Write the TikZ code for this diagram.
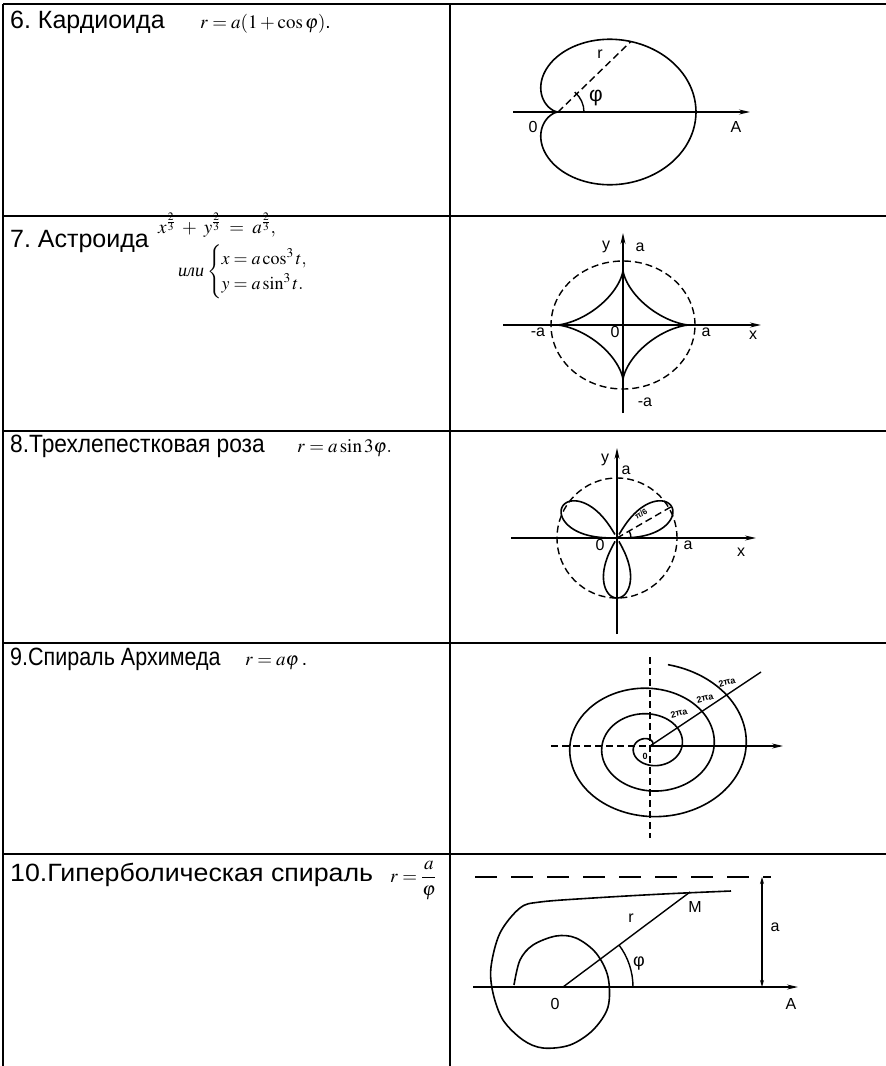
\documentclass[tikz,border=0pt]{standalone}
\usepackage{amsmath}
\usepackage{mathptmx}
\usepackage[no-math]{fontspec}
\setmainfont{Liberation Sans}
\newfontfamily\serifcyr{Liberation Serif}
\usetikzlibrary{arrows.meta}
\frenchspacing
\begin{document}
\begin{tikzpicture}[x=1pt,y=-1pt,
  grid/.style={line width=1.4pt},
  curve/.style={line width=1.6pt, line join=round},
  axis/.style={line width=1.4pt},
  arr/.style={-{Stealth[length=11pt,width=5pt]}},
  dsh/.style={line width=1.4pt, dash pattern=on 7pt off 4pt},
  title/.style={anchor=base west, inner sep=0pt, font=\fontsize{25}{29}\selectfont},
  formula/.style={anchor=base west, inner sep=0pt, font=\fontsize{18}{21}\selectfont},
  lbl/.style={inner sep=0pt, font=\fontsize{16}{18}\selectfont},
  tinylbl/.style={inner sep=0pt, font=\bfseries\fontsize{9}{10}\selectfont}]

\useasboundingbox (0,0) rectangle (886,1066);
\fill[white] (0,0) rectangle (886,1066);

% ---------- table ----------
\draw[grid] (3,4) -- (886,4);
\draw[grid] (3,216) -- (886,216);
\draw[grid] (3,431) -- (886,431);
\draw[grid] (3,643) -- (886,643);
\draw[grid] (3,854) -- (886,854);
\draw[grid] (3,4) -- (3,1066);
\draw[grid] (450,4) -- (450,1066);

% ---------- left texts ----------
\node[title] (t6) at (10,28) {6. Кардиоида};
\node[formula, font=\fontsize{19}{22}\selectfont] (f6) at (200,28) {$r=a(1+\cos\varphi)$.};

\node[title] (t7) at (10,247) {7. Астроида};
\node[formula, font=\fontsize{19}{22}\selectfont] (f7a) at (158,233) {$x^{\frac{2}{3}}\;+\;y^{\frac{2}{3}}\;=\;a^{\frac{2}{3}},$};
\node[formula, anchor=west] (f7b) at (178,272) {{\serifcyr\itshape или}\,$\begin{cases}x=a\cos^3t,\\ y=a\sin^3t.\end{cases}$};

\node[title] (t8) at (10,452) {\scalebox{0.91}[1]{8.Трехлепестковая роза}};
\node[formula, font=\fontsize{19}{22}\selectfont] (f8) at (297,452) {$r=a\sin3\varphi.$};

\node[title] (t9) at (10,665) {\scalebox{0.86}[1]{9.Спираль Архимеда}};
\node[formula, font=\fontsize{19}{22}\selectfont] (f9) at (245,665) {$r=a\varphi$\,.};

\node[title] (t10) at (10,881) {\scalebox{1.07}[1]{10.Гиперболическая спираль}};
\node[formula, font=\fontsize{19}{22}\selectfont] (f10) at (390,882) {$r=\dfrac{a}{\varphi}$};

% ---------- 6. cardioid ----------
\begin{scope}[shift={(558,112)}, y=1pt]
  \coordinate (c0) at (0,0);
  \coordinate (cL) at (-45,0);
  \coordinate (cR) at (192,0);
  \draw[axis, arr] (cL) -- (cR);
  \draw[curve] plot[domain=0:360, samples=160, smooth cycle] ({69*(1+cos(\x))*cos(\x)}, {56*(1+cos(\x))*sin(\x)});
  \coordinate (cP) at ({69*(1+cos(50))*cos(50)}, {56*(1+cos(50))*sin(50)});
  \draw[dsh] (c0) -- (cP);
  \draw[axis] (26,0) arc[start angle=0, end angle=50, radius=26];
  \node[lbl] (cr) at (42,58) {r};
  \node[lbl, font=\fontsize{21}{23}\selectfont] (cphi) at (38,14) {φ};
  \node[lbl] (cO) at (-25,-15) {0};
  \node[lbl] (cA) at (178,-15) {A};
\end{scope}

% ---------- 7. astroid ----------
\begin{scope}[shift={(623,325)}, y=1pt]
  \coordinate (a0) at (0,0);
  \coordinate (axL) at (-120,0);
  \coordinate (axR) at (138,0);
  \coordinate (ayB) at (0,-88);
  \coordinate (ayT) at (0,92);
  \draw[axis, arr] (axL) -- (axR);
  \draw[axis, arr] (ayB) -- (ayT);
  \draw[dsh] (a0) ellipse[x radius=72, y radius=64];
  \draw[curve] plot[domain=0:360, samples=200] ({66*cos(\x)*cos(\x)*cos(\x)}, {55*sin(\x)*sin(\x)*sin(\x)});
  \node[lbl] (ay) at (-17,78) {y};
  \node[lbl] (aa1) at (17,78) {a};
  \node[lbl] (aa2) at (-85,-7) {-a};
  \node[lbl] (aO) at (-8,-7) {0};
  \node[lbl] (aa3) at (83,-7) {a};
  \node[lbl] (ax) at (130,-10) {x};
  \node[lbl] (aa4) at (22,-77) {-a};
\end{scope}

% ---------- 8. rose ----------
\begin{scope}[shift={(617,538)}, y=1pt]
  \coordinate (r0) at (0,0);
  \coordinate (rxL) at (-106,0);
  \coordinate (rxR) at (139,0);
  \coordinate (ryB) at (0,-96);
  \coordinate (ryT) at (0,90);
  \draw[axis, arr] (rxL) -- (rxR);
  \draw[axis, arr] (ryB) -- (ryT);
  \draw[dsh] (r0) circle[radius=60];
  \draw[curve] plot[domain=0.2:59.8, samples=80, smooth] ({63*pow(sin(3*\x),0.6)*cos(\x)}, {63*pow(sin(3*\x),0.6)*sin(\x)});
  \draw[curve] plot[domain=120.2:179.8, samples=80, smooth] ({63*pow(sin(3*\x),0.6)*cos(\x)}, {63*pow(sin(3*\x),0.6)*sin(\x)});
  \draw[curve] plot[domain=60.2:119.8, samples=80, smooth] ({-60*pow(-sin(3*\x),0.6)*cos(\x)}, {-60*pow(-sin(3*\x),0.6)*sin(\x)});
  \coordinate (rP) at (30:63);
  \draw[dsh] (r0) -- (rP);
  \draw[axis] (14,0) arc[start angle=0, end angle=30, radius=14];
  \node[tinylbl, font=\bfseries\fontsize{8}{9}\selectfont, rotate=30] (rang) at (24,24) {π/6};
  \node[lbl] (ry) at (-12,78) {y};
  \node[lbl] (ra1) at (9,68) {a};
  \node[lbl] (rO) at (-17,-7) {0};
  \node[lbl] (ra2) at (71,-7) {a};
  \node[lbl] (rx) at (124,-14) {x};
\end{scope}

% ---------- 9. Archimedes spiral ----------
\begin{scope}[shift={(650,746)}, y=1pt]
  \coordinate (s0) at (0,0);
  \coordinate (sL) at (-99,0);
  \coordinate (sR) at (133,0);
  \coordinate (sT) at (0,89);
  \coordinate (sB) at (0,-92);
  \draw[dsh] (sL) -- (s0);
  \draw[axis, arr] (s0) -- (sR);
  \draw[dsh] (sT) -- (sB);
  \draw[curve] plot[domain=0:1160, samples=400, smooth] ({5.1*rad(\x)*cos(\x)}, {0.8*5.1*rad(\x)*sin(\x)});
  \coordinate (sP) at (111,74);
  \draw[axis] (s0) -- (sP);
  \node[tinylbl, rotate=15] (s1) at (29,33) {2πa};
  \node[tinylbl, rotate=15] (s2) at (55,48) {2πa};
  \node[tinylbl, rotate=15] (s3) at (77,64) {2πa};
  \node[tinylbl] (sO) at (-5,-10) {0};
\end{scope}

% ---------- 10. hyperbolic spiral ----------
\begin{scope}[shift={(563,987)}, y=1pt]
  \coordinate (h0) at (0,0);
  \coordinate (hL) at (-90,0);
  \coordinate (hR) at (235,0);
  \coordinate (haL) at (-88,110);
  \coordinate (haR) at (208,110);
  \coordinate (hvB) at (199,0);
  \coordinate (hvT) at (199,110);
  \coordinate (hM) at (127,95);
  \draw[axis, dash pattern=on 22pt off 14pt] (haL) -- (haR);
  \draw[axis, arr] (hL) -- (hR);
  \draw[axis, {Stealth[length=7pt,width=4pt]}-{Stealth[length=7pt,width=4pt]}] (hvB) -- (hvT);
  \draw[curve] plot[smooth, tension=0.55] coordinates {(168,96) (100,93) (30,89) (-23,85) (-43,79) (-63,54) (-72,20) (-70,-6) (-60,-33) (-40,-53) (-20,-61) (7,-58) (30,-43) (45,-20) (45,10) (33,34) (13,49) (-7,51) (-30,42) (-43,27) (-49,2)};
  \draw[axis] (h0) -- (hM);
  \draw[axis] (70,0) arc[start angle=0, end angle=36.8, radius=70];
  \node[lbl] (hMl) at (132,80) {M};
  \node[lbl] (hr) at (68,69) {r};
  \node[lbl, font=\fontsize{18}{20}\selectfont] (hphi) at (76,24) {φ};
  \node[lbl] (hO) at (-8,-17) {0};
  \node[lbl] (hA) at (228,-17) {A};
  \node[lbl] (ha) at (212,60) {a};
\end{scope}
\end{tikzpicture}
\end{document}
